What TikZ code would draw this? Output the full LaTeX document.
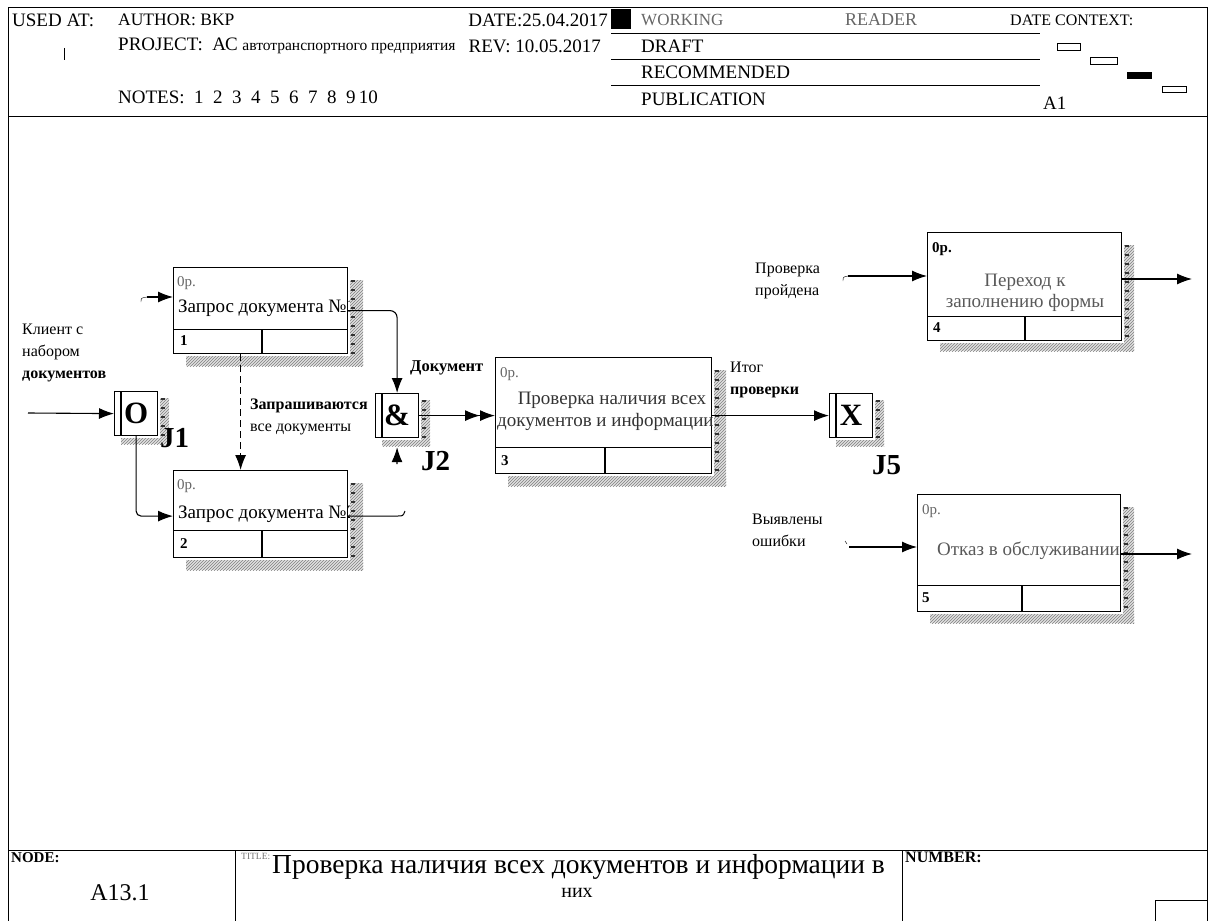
\documentclass[tikz,border=0pt]{standalone}
\usepackage{fontspec}
\setmainfont{Liberation Serif}
\usetikzlibrary{arrows.meta,patterns}

% hatched shadow at the right and bottom of a box
\newcommand\boxshade[4]{%
  \fill[shade] ([shift={(2pt,-#2pt)}]#1.north east) rectangle ([shift={(#3pt,-#4pt)}]#1.south east);
  \fill[shade] ([shift={(#2pt,-2pt)}]#1.south west) rectangle ([shift={(#3pt,-#4pt)}]#1.south east);
  \draw[black!80, line width=4pt, dash pattern=on 2pt off 7pt] ([shift={(5pt,-#2pt)}]#1.north east) -- ([shift={(5pt,0pt)}]#1.south east);
}
% bottom strip of an activity box
\newcommand\actfoot[3]{%
  \draw[line width=1.2pt] ([yshift=#2pt]#1.south west) -- ([yshift=#2pt]#1.south east);
  \draw[line width=1.2pt] ([xshift=#3pt]#1.south west) -- ([xshift=#3pt, yshift=#2pt]#1.south west);
}

\begin{document}
\begin{tikzpicture}[x=1pt, y=-1pt,
    font=\fontsize{19}{21}\selectfont,
    shade/.style={preaction={fill=black!12}, pattern=north east lines, pattern color=black!50},
    actbox/.style={draw, line width=1.2pt, anchor=north west, inner sep=0pt},
    junc/.style={draw, line width=1.2pt, anchor=north west, inner sep=0pt, minimum width=43pt, minimum height=44pt,
      font=\fontsize{31}{33}\selectfont\bfseries},
    jlbl/.style={anchor=west, inner sep=0pt, font=\fontsize{29}{31}\selectfont\bfseries},
    hd/.style={anchor=west, inner sep=0pt, font=\fontsize{19}{21}\selectfont},
    lbl/.style={anchor=north west, inner sep=0pt, align=left, font=\fontsize{16}{22}\selectfont},
    num/.style={anchor=west, inner sep=0pt, font=\fontsize{15}{17}\selectfont\bfseries},
    op/.style={anchor=west, inner sep=0pt, text=black!60, font=\fontsize{15}{17}\selectfont},
    ltip/.tip={Latex[length=15pt, width=11pt]},
    flow/.style={-ltip, line width=1.1pt}]
  \useasboundingbox (0,0) rectangle (1214,920);

  % frame, header and footer
  \draw[line width=1pt] (8,8) rectangle (1207,924);
  \draw[line width=1pt] (8,117) -- (1207,117);
  \draw[line width=1pt] (8,850) -- (1207,850);
  \draw[line width=1pt] (235,850) -- (235,924);
  \draw[line width=1pt] (902,850) -- (902,924);
  \draw[line width=1pt] (1155,924) |- (1207,900);

  \node[hd] (usedat) at (12,20) {USED AT:};
  \draw (64,48) -- (64,60);
  \node[hd, font=\fontsize{17.5}{19}\selectfont] (author) at (118,20) {AUTHOR: BKP};
  \node[hd, anchor=east] (date) at (608,20) {DATE:25.04.2017};
  \node[hd] (project) at (118,46) {PROJECT:\ \ АС {\fontsize{15.5}{17}\selectfont автотранспортного предприятия}};
  \node[hd, anchor=east] (rev) at (601,46) {REV: 10.05.2017};
  \node[hd] (notes) at (118,97) {NOTES:\ \ 1\ \ 2\ \ 3\ \ 4\ \ 5\ \ 6\ \ 7\ \ 8\ \ 9\,10};
  \fill (611,9) rectangle (631,29);
  \node[hd, text=black!60, font=\fontsize{17}{19}\selectfont] (working) at (641,20) {WORKING};
  \node[hd, text=black!60, font=\fontsize{18}{20}\selectfont] (reader) at (845,20) {READER};
  \node[hd, font=\fontsize{16}{18}\selectfont] (context) at (1010,20) {DATE CONTEXT:};
  \draw (611,33) -- (1040,33);
  \draw (611,59) -- (1040,59);
  \draw (611,85) -- (1040,85);
  \node[hd] (draft) at (641,46) {DRAFT};
  \node[hd] (recommended) at (641,72) {RECOMMENDED};
  \node[hd] (publication) at (641,99) {PUBLICATION};
  \node[hd] (aone) at (1043,103) {A1};
  \draw (1057,43) rectangle (1080,50);
  \draw (1090,57) rectangle (1117,64);
  \fill (1127,72) rectangle (1152,79);
  \draw (1162,86) rectangle (1186,92);

  \node[anchor=west, inner sep=0pt, font=\fontsize{15}{17}\selectfont\bfseries] (nodelbl) at (11,858) {NODE:};
  \node[font=\fontsize{24}{26}\selectfont] (nodeno) at (120,893) {A13.1};
  \node[anchor=west, inner sep=0pt, text=black!55, font=\fontsize{9.5}{11}\selectfont] (titlelbl) at (241,856) {TITLE:};
  \node[anchor=west, inner sep=0pt, font=\fontsize{27.5}{30}\selectfont] (title) at (272,867) {Проверка наличия всех документов и информации в};
  \node[font=\fontsize{20}{22}\selectfont] (title2) at (577,893) {них};
  \node[anchor=west, inner sep=0pt, font=\fontsize{16}{18}\selectfont\bfseries] (numlbl) at (905,857) {NUMBER:};

  % activity boxes
  \node[actbox, minimum width=174pt, minimum height=86pt] (b1) at (173,267) {};
  \node[actbox, minimum width=174pt, minimum height=87pt] (b2) at (173,470) {};
  \node[actbox, minimum width=216pt, minimum height=116pt] (b3) at (495,357) {};
  \node[actbox, minimum width=194pt, minimum height=108pt] (b4) at (927,232) {};
  \node[actbox, minimum width=203pt, minimum height=117pt] (b5) at (917,494) {};
  \actfoot{b1}{25}{89}
  \actfoot{b2}{28}{89}
  \actfoot{b3}{27}{110}
  \actfoot{b4}{25}{98}
  \actfoot{b5}{27}{105}

  \node[op] (b1op) at (177,283) {0р.};
  \node[anchor=west, inner sep=0pt] (b1txt) at (178,308) {Запрос документа №1};
  \node[num] (b1no) at (180,341) {1};
  \node[op] (b2op) at (177,486) {0р.};
  \node[anchor=west, inner sep=0pt] (b2txt) at (178,514) {Запрос документа №2};
  \node[num] (b2no) at (180,544) {2};
  \node[op] (b3op) at (500,374) {0р.};
  \node[text=black!80, inner sep=0pt] (b3txt) at (612,400) {Проверка наличия всех};
  \node[anchor=west, text=black!80, inner sep=0pt] (b3txtb) at (497,422) {документов и информации};
  \node[num] (b3no) at (501,461) {3};
  \node[op, text=black, font=\fontsize{15}{17}\selectfont\bfseries] (b4op) at (932,249) {0р.};
  \node[text=black!65, inner sep=0pt] (b4txt) at (1025,282) {Переход к};
  \node[text=black!65, inner sep=0pt] (b4txtb) at (1025,303) {заполнению формы};
  \node[num] (b4no) at (933,328) {4};
  \node[op] (b5op) at (922,511) {0р.};
  \node[anchor=west, text=black!65, inner sep=0pt] (b5txt) at (937,551) {Отказ в обслуживании};
  \node[num] (b5no) at (922,598) {5};

  \boxshade{b1}{13}{15}{12}
  \boxshade{b2}{13}{15}{12}
  \boxshade{b3}{13}{14}{12}
  \boxshade{b4}{13}{12}{10}
  \boxshade{b5}{13}{13}{11}

  % junctions
  \node[junc] (j1) at (114,391) {O};
  \node[junc] (j2) at (375,393) {\&};
  \node[junc] (j5) at (829,393) {X};
  \foreach \j in {j1,j2,j5}{
    \draw[line width=1.2pt] ([xshift=7pt]\j.north west) -- ([xshift=7pt]\j.south west);
    \boxshade{\j}{7}{11}{8}
  }
  \node[jlbl] (j1l) at (160,438) {J1};
  \node[jlbl] (j2l) at (421,461) {J2};
  \node[jlbl] (j5l) at (872,465) {J5};

  % arrows
  \coordinate (in1) at (28,413);
  \draw[flow] (in1) -- (j1.west);
  \draw[flow, rounded corners=5pt] (j1.south) |- ([yshift=-2pt]b2.west);
  \coordinate (t1) at (147,297);
  \draw (141,302) .. controls (141,298) .. (147,297);
  \draw[flow] (t1) -- (t1 -| b1.west);
  \draw[flow, rounded corners=7pt] (b1.east) -| (j2.north);
  \draw[flow, dash pattern=on 7pt off 4pt] ([xshift=-20pt]b1.south) -- ([xshift=-20pt]b2.north);
  \coordinate (o2) at (405,511);
  \draw[line width=1pt] ([yshift=-2pt]b2.east) -- (398,516) .. controls (403,516) .. (o2);
  \coordinate (c2) at (397,464);
  \draw[flow] (c2) -- ([yshift=-9pt]j2.south);
  \draw[-{ltip[]ltip[]}, line width=1.1pt] (j2.east) -- (j2.east -| b3.west);
  \draw[flow] (j5.west -| b3.east) -- (j5.west);
  \coordinate (t4) at (848,276);
  \draw (843,281) .. controls (843,277) .. (848,276);
  \draw[flow] (t4) -- (t4 -| b4.west);
  \coordinate (o4) at (1192,279);
  \draw[flow] (o4 -| b4.east) -- (o4);
  \coordinate (t5) at (849,547);
  \draw (845,541) -- (847,544);
  \draw[flow] (t5) -- (t5 -| b5.west);
  \coordinate (o5) at (1192,554);
  \draw[flow] (o5 -| b5.east) -- (o5);

  % arrow labels
  \node[lbl] (client) at (22,324) {Клиент с\\набором\\\textbf{документов}};
  \node[lbl] (askall) at (250,399) {\textbf{Запрашиваются}\\все документы};
  \node[lbl, anchor=west, font=\fontsize{16.5}{18}\selectfont\bfseries] (doc) at (410,368) {Документ};
  \node[lbl] (result) at (730,362) {Итог\\\textbf{проверки}};
  \node[lbl] (passed) at (755,263) {Проверка\\пройдена};
  \node[lbl] (errors) at (752,514) {Выявлены\\ошибки};
\end{tikzpicture}
\end{document}
